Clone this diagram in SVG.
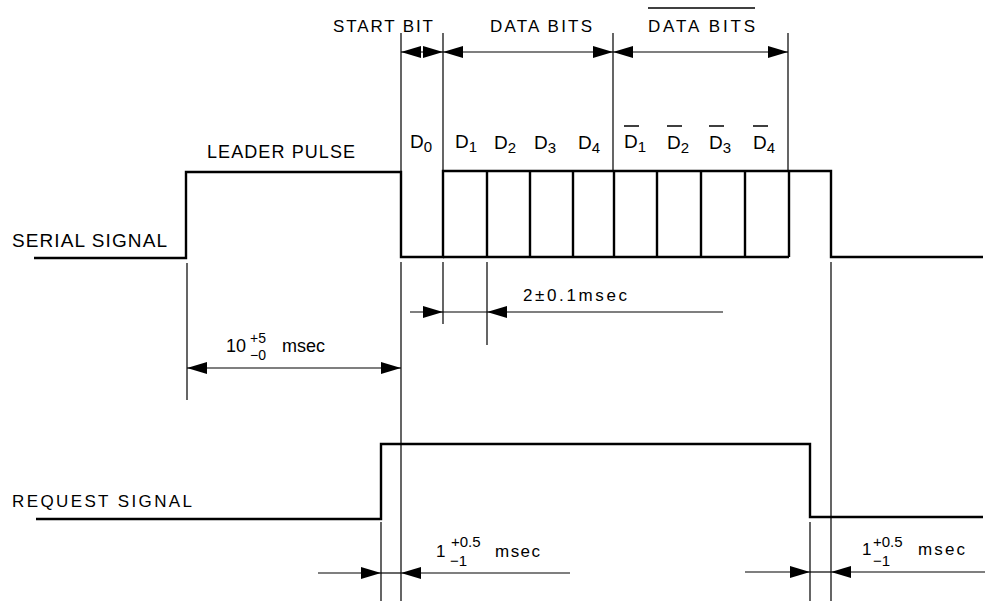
<svg xmlns="http://www.w3.org/2000/svg" width="985" height="601" viewBox="0 0 985 601">
<style>
text{font-family:"Liberation Sans",Arial,sans-serif;fill:#000}
.lbl{font-size:18px}
.hdr{font-size:17px}
.d{font-size:19px}
.sub{font-size:15px}
.sup{font-size:14px}
.wave{fill:none;stroke:#000;stroke-width:2.4;stroke-linejoin:miter}
.ext{fill:none;stroke:#000;stroke-width:1.2}
.dim{fill:none;stroke:#000;stroke-width:1.2}
.dimA{fill:none;stroke:#000;stroke-width:1.2;marker-end:url(#arr)}
.dimAA{fill:none;stroke:#000;stroke-width:1.2;marker-start:url(#arr);marker-end:url(#arr)}
.ov{stroke:#000;stroke-width:1.5}
</style>
<defs>
<marker id="arr" markerUnits="userSpaceOnUse" markerWidth="22" markerHeight="12" refX="20" refY="6" orient="auto-start-reverse">
<path d="M0,0 L20,6 L0,12 Z" fill="#000"/>
</marker>
</defs>
<rect width="985" height="601" fill="#fff"/>

<g id="serial-signal">
<text class="lbl" x="12" y="247" textLength="155" lengthAdjust="spacing" style="font-size:19px">SERIAL SIGNAL</text>
<path class="wave" d="M34,258 H186 V172 H401 V257 H443 V171 H831 V257 H983"/>
<path class="wave" d="M443,257 H789 M487,171 V257 M530,171 V257 M573,171 V257 M614,171 V257 M657,171 V257 M701,171 V257 M745,171 V257 M789,171 V257"/>
</g>

<g id="leader-pulse">
<text class="lbl" x="207" y="158" textLength="148" lengthAdjust="spacing">LEADER PULSE</text>
</g>

<g id="request-signal">
<text class="lbl" x="12" y="507" textLength="180" lengthAdjust="spacing" style="font-size:17px">REQUEST SIGNAL</text>
<path class="wave" d="M36,519 H381 V444 H810 V517 H983"/>
</g>

<g id="bit-labels">
<text class="d" x="410" y="148">D<tspan class="sub" dy="4">0</tspan></text>
<text class="d" x="455" y="148">D<tspan class="sub" dy="4">1</tspan></text>
<text class="d" x="494" y="149">D<tspan class="sub" dy="4">2</tspan></text>
<text class="d" x="534" y="149">D<tspan class="sub" dy="4">3</tspan></text>
<text class="d" x="578" y="149">D<tspan class="sub" dy="4">4</tspan></text>
<text class="d" x="624" y="148">D<tspan class="sub" dy="4">1</tspan></text>
<text class="d" x="667" y="149">D<tspan class="sub" dy="4">2</tspan></text>
<text class="d" x="709" y="149">D<tspan class="sub" dy="4">3</tspan></text>
<text class="d" x="753" y="149">D<tspan class="sub" dy="4">4</tspan></text>
<path class="ov" d="M624,126 H639 M667,126 H682 M709,126 H724 M753,126 H768"/>
</g>

<g id="header-labels">
<text class="hdr" x="333" y="32" textLength="100" lengthAdjust="spacing">START BIT</text>
<text class="hdr" x="490" y="32" textLength="102" lengthAdjust="spacing">DATA BITS</text>
<text class="hdr" x="648" y="32" textLength="107" lengthAdjust="spacing">DATA BITS</text>
<path class="ov" d="M648,8 H755"/>
</g>

<g id="dimension-labels">
<text class="lbl" x="226" y="352">10</text>
<text class="sup" x="250" y="343">+5</text>
<text class="sup" x="250" y="360">−0</text>
<text class="lbl" x="282" y="352">msec</text>
<text class="hdr" x="523" y="301" textLength="104" lengthAdjust="spacing">2±0.1msec</text>
<text class="hdr" x="436" y="557">1</text>
<text class="sub" x="451" y="547">+0.5</text>
<text class="sub" x="450" y="566">−1</text>
<text class="hdr" x="495" y="557" textLength="45" lengthAdjust="spacing">msec</text>
<text class="hdr" x="862" y="555">1</text>
<text class="sub" x="873" y="547">+0.5</text>
<text class="sub" x="873" y="566">−1</text>
<text class="hdr" x="918" y="555" textLength="47" lengthAdjust="spacing">msec</text>
</g>

<g id="connectors">
<!-- extension lines -->
<path class="ext" d="M401,33 V171 M443,33 V171 M613,33 V171 M788,33 V171"/>
<path class="ext" d="M187,263 V400 M401,262 V601 M443,262 V324 M487,262 V345 M831,262 V601 M381,522 V601 M810,522 V601"/>
<!-- top dimensions -->
<line class="dimAA" x1="401" y1="52" x2="443" y2="52"/>
<line class="dimAA" x1="443" y1="52" x2="613" y2="52"/>
<line class="dimAA" x1="613" y1="52" x2="788" y2="52"/>
<!-- 2 msec -->
<line class="dimA" x1="410" y1="312" x2="443" y2="312"/>
<line class="dim" x1="443" y1="312" x2="487" y2="312"/>
<line class="dimA" x1="723" y1="312" x2="487" y2="312"/>
<!-- 10 msec -->
<line class="dimAA" x1="187" y1="368" x2="401" y2="368"/>
<!-- bottom left 1 msec -->
<line class="dimA" x1="318" y1="573" x2="381" y2="573"/>
<line class="dim" x1="381" y1="573" x2="401" y2="573"/>
<line class="dimA" x1="570" y1="573" x2="401" y2="573"/>
<!-- bottom right 1 msec -->
<line class="dimA" x1="745" y1="572" x2="810" y2="572"/>
<line class="dim" x1="810" y1="572" x2="831" y2="572"/>
<line class="dimA" x1="985" y1="572" x2="831" y2="572"/>
</g>
</svg>
